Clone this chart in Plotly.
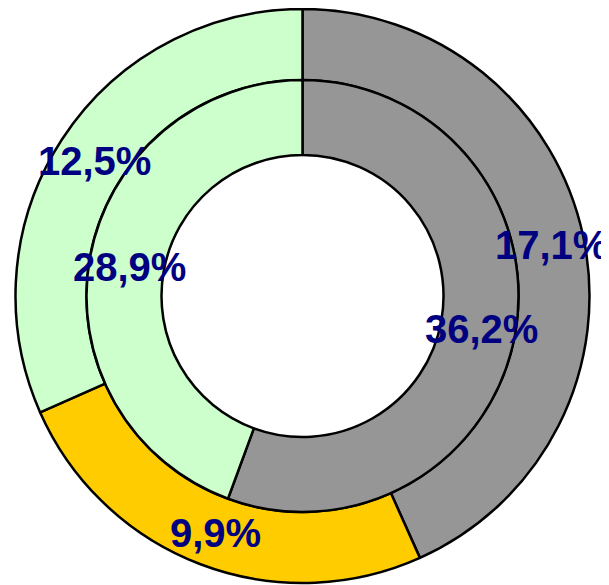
import math
import plotly.graph_objects as go

# Outer ring
outer_labels = ["Серый", "Жёлтый", "Зелёный"]
outer_values = [17.1, 9.9, 12.5]
outer_colors = ["#969696", "#FFCC00", "#CCFFCC"]

# Inner ring
inner_labels = ["Серый", "Зелёный"]
inner_values = [36.2, 28.9]
inner_colors = ["#969696", "#CCFFCC"]

W, H = 609, 585
OFF = 8.0  # default page body margin of the written html
cx, cy = 302.5 - OFF, 296.0 - OFF
r_out, r_mid, r_in = 287.0, 216.0, 141.0


def dom(r):
    return dict(x=[(cx - r) / W, (cx + r) / W],
                y=[1 - (cy + r) / H, 1 - (cy - r) / H])


font = dict(family="Liberation Sans, Arial, sans-serif", size=40,
            color="#000080", weight="bold")

fig = go.Figure()
fig.add_trace(go.Pie(
    labels=outer_labels, values=outer_values, sort=False,
    direction="clockwise", rotation=0, hole=r_mid / r_out,
    domain=dom(r_out),
    marker=dict(colors=outer_colors, line=dict(color="black", width=2.5)),
    textinfo="none", hoverinfo="label+value", showlegend=False,
))
fig.add_trace(go.Pie(
    labels=inner_labels, values=inner_values, sort=False,
    direction="clockwise", rotation=0, hole=r_in / r_mid,
    domain=dom(r_mid),
    marker=dict(colors=inner_colors, line=dict(color="black", width=2.5)),
    textinfo="none", hoverinfo="label+value", showlegend=False,
))


def ring_labels(values, r0, r1):
    total = sum(values)
    acc = 0.0
    r = (r0 + r1) / 2
    out = []
    for v in values:
        mid = (acc + v / 2) / total * 2 * math.pi
        acc += v
        px = cx + r * math.sin(mid)
        py = cy - r * math.cos(mid)
        out.append(dict(
            x=px / W, y=1 - py / H, xref="paper", yref="paper",
            text=f"{v:.1f}%".replace(".", ","), showarrow=False,
            xanchor="center", yanchor="middle", font=font,
            xshift=3, yshift=-2,
        ))
    return out


fig.update_layout(
    width=W, height=H, margin=dict(l=0, r=0, t=0, b=0),
    paper_bgcolor="white", plot_bgcolor="white",
    annotations=ring_labels(outer_values, r_mid, r_out)
    + ring_labels(inner_values, r_in, r_mid),
    showlegend=False,
)
fig.write_html("out.html")
